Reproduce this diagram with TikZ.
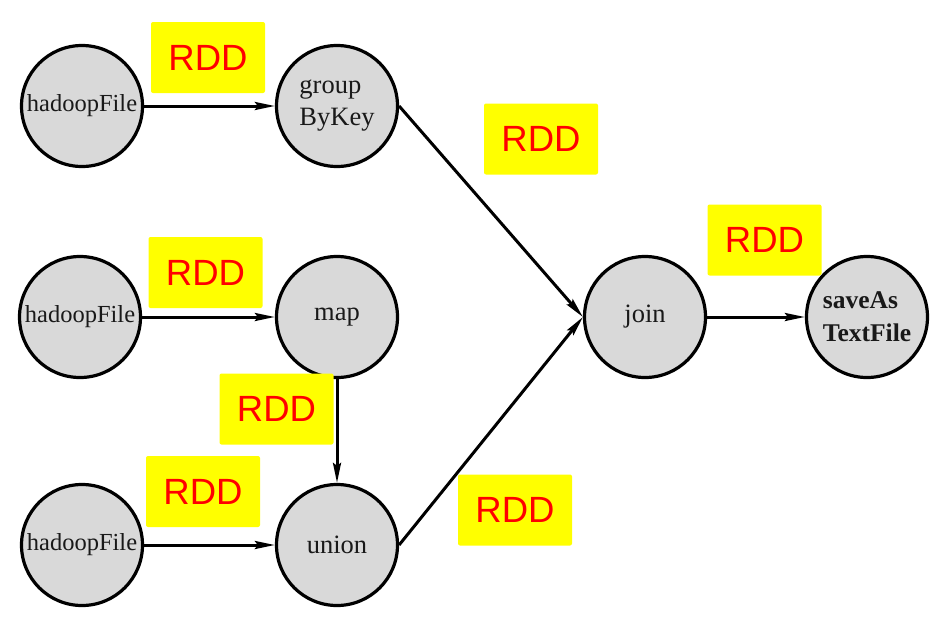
\documentclass[tikz,border=0pt]{standalone}
\usepackage{fontspec}
\setmainfont{Liberation Serif}
\newfontfamily\rddfont{Liberation Sans}
\usetikzlibrary{arrows.meta}
\definecolor{nodegray}{HTML}{D9D9D9}
\definecolor{rddyellow}{HTML}{FFFF00}
\definecolor{rddred}{HTML}{FF0000}
\tikzset{
  opnode/.style={circle, draw=black, line width=3.2pt, fill=nodegray, minimum size=121pt, inner sep=0pt,
    font=\fontsize{26.5}{32}\selectfont, text=black!90},
  filenode/.style={opnode, font=\fontsize{24.5}{30}\selectfont},
  rddbox/.style={fill=rddyellow, rounded corners=2pt, minimum width=114pt, minimum height=71pt, inner sep=0pt,
    text=rddred, font=\rddfont\fontsize{36.5}{40}\selectfont},
  flow/.style={line width=3pt, -{Stealth[length=20pt,width=8pt,inset=3pt]}}
}
\begin{document}
\begin{tikzpicture}[x=1pt,y=-1pt]
\useasboundingbox (0,0) rectangle (942,637);
% nodes
\node[filenode] (h1) at (82,106) {hadoopFile};
\node[opnode, align=left] (g) at (337,106) {group\\ByKey};
\node[filenode] (h2) at (80,317) {hadoopFile};
\node[opnode] (m) at (337,317) {map};
\node[filenode] (h3) at (82,545) {hadoopFile};
\node[opnode] (u) at (337,545) {union};
\node[opnode] (j) at (645,317) {join};
\node[opnode, align=left, font=\bfseries\fontsize{25.5}{33}\selectfont] (s) at (867,317) {saveAs\\TextFile};
% connectors
\draw[flow] (h1) -- (g);
\draw[flow] (h2) -- (m);
\draw[flow] (h3) -- (u);
\draw[flow] (m.south) -- (u.north);
\draw[flow] (g.east) -- (j.west);
\draw[flow] (u.east) -- (j.west);
\draw[flow] (j) -- (s);
% RDD labels
\node[rddbox] (r1) at (208,57.5) {RDD};
\node[rddbox] (r2) at (541,139) {RDD};
\node[rddbox] (r3) at (205.5,272.5) {RDD};
\node[rddbox] (r4) at (764.5,240) {RDD};
\node[rddbox] (r5) at (276.5,409) {RDD};
\node[rddbox] (r6) at (203,491.5) {RDD};
\node[rddbox] (r7) at (515,510) {RDD};
\end{tikzpicture}
\end{document}
